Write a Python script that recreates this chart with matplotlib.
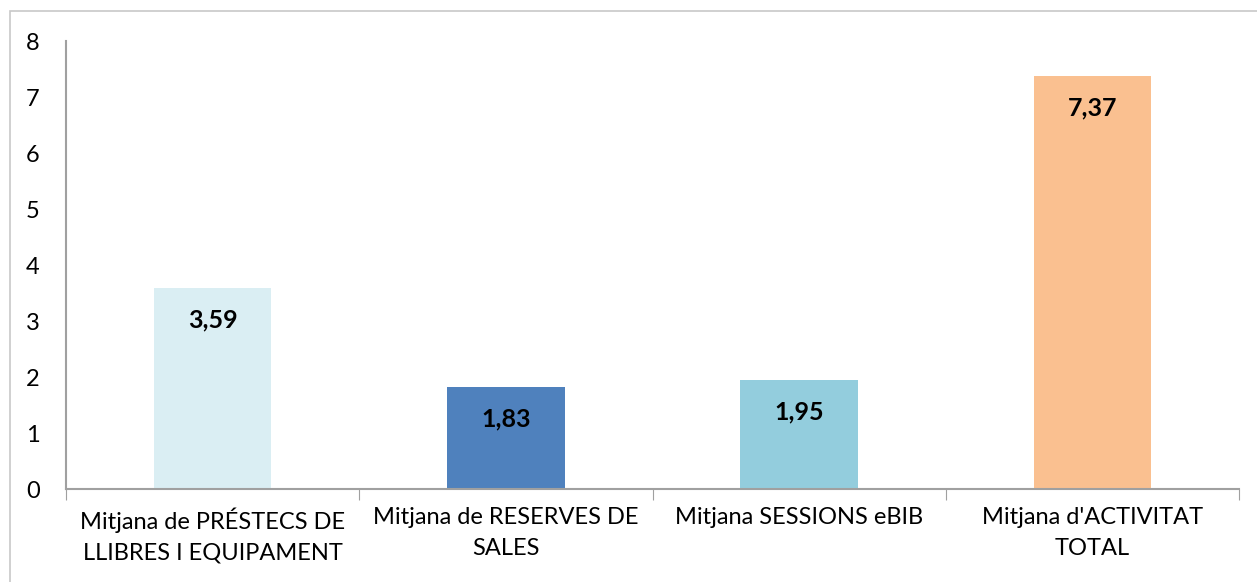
import matplotlib
matplotlib.use("Agg")
import matplotlib.pyplot as plt
from matplotlib.patches import Rectangle

categories = ["Mitjana de PRÉSTECS DE\nLLIBRES I EQUIPAMENT",
              "Mitjana de RESERVES DE\nSALES",
              "Mitjana SESSIONS eBIB",
              "Mitjana d'ACTIVITAT\nTOTAL"]
values = [3.59, 1.83, 1.95, 7.37]
colors = ["#DAEEF3", "#4F81BD", "#93CDDD", "#FAC090"]
yticks = [0, 1, 2, 3, 4, 5, 6, 7, 8]

plt.rcParams["font.family"] = ["Lato", "DejaVu Sans"]

fig = plt.figure(figsize=(12.57, 5.82), dpi=100)
fig.patches.append(Rectangle((10 / 1257, -0.1), 1.2, 1 - 11 / 582 + 0.1,
                             transform=fig.transFigure, fill=False,
                             edgecolor="#C8C8C8", linewidth=1.2))
ax = fig.add_axes([66 / 1257, 1 - 489 / 582, (1239 - 66) / 1257, (489 - 41) / 582])

x = list(range(len(values)))
ax.bar(x, values, width=0.4, color=colors)
for xi, v in zip(x, values):
    ax.annotate(f"{v:.2f}".replace(".", ","), (xi, v), textcoords="offset points",
                xytext=(0, -23), ha="center", va="center",
                fontsize=18, fontweight="bold", color="black")

ax.set_xlim(-0.5, len(values) - 0.5)
ax.set_ylim(0, 8)
ax.set_yticks(yticks)
ax.set_yticklabels([str(t) for t in yticks])
ax.tick_params(axis="y", length=0, pad=19, labelsize=17)
ax.set_xticks([i - 0.5 for i in range(len(values) + 1)], minor=False)
ax.set_xticklabels([])
ax.tick_params(axis="x", length=8, color="#A0A0A0", direction="out")
ax.set_xticks(x, minor=True)
ax.set_xticklabels(categories, minor=True, fontsize=17, linespacing=1.6)
ax.tick_params(axis="x", which="minor", length=0, pad=13)

for s in ["top", "right"]:
    ax.spines[s].set_visible(False)
for s in ["left", "bottom"]:
    ax.spines[s].set_color("#A0A0A0")
    ax.spines[s].set_linewidth(1.5)

fig.savefig("out.png", dpi=100)
